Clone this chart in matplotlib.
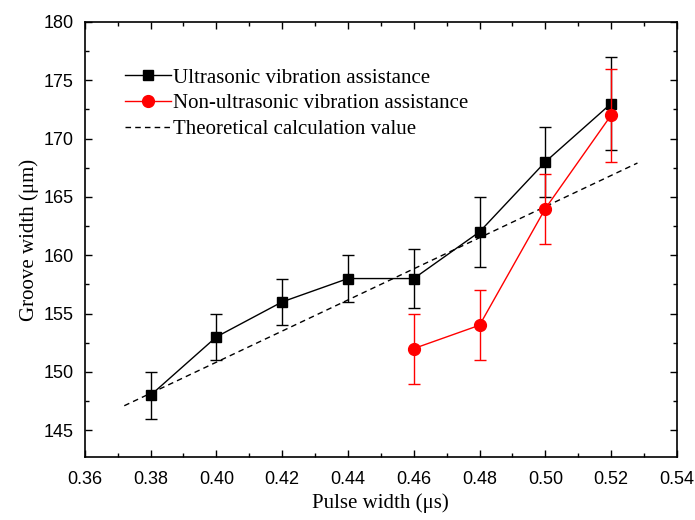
import numpy as np
import matplotlib.pyplot as plt
from matplotlib.ticker import MultipleLocator
from matplotlib.lines import Line2D

# Ultrasonic vibration assistance
x_us = [0.38, 0.40, 0.42, 0.44, 0.46, 0.48, 0.50, 0.52]
y_us = [148, 153, 156, 158, 158, 162, 168, 173]
err_us = [2, 2, 2, 2, 2.5, 3, 3, 4]

# Non-ultrasonic vibration assistance
x_non = [0.46, 0.48, 0.50, 0.52]
y_non = [152, 154, 164, 172]
err_non = [3, 3, 3, 4]

# Theoretical calculation value (straight line)
x_theo = [0.372, 0.528]
y_theo = [147.1, 167.9]

xticks = [0.36, 0.38, 0.40, 0.42, 0.44, 0.46, 0.48, 0.50, 0.52, 0.54]
yticks = [145, 150, 155, 160, 165, 170, 175, 180]

serif = ['Liberation Serif', 'DejaVu Serif']
sans = ['Liberation Sans', 'DejaVu Sans']

fig = plt.figure(figsize=(6.95, 5.2), dpi=100)
ax = fig.add_axes([0.122, 0.121, 0.852, 0.837])

ax.errorbar(x_us, y_us, yerr=err_us, color='black', marker='s', markersize=7,
            linewidth=1, elinewidth=1, capsize=4, capthick=1, zorder=3)
ax.errorbar(x_non, y_non, yerr=err_non, color='red', marker='o', markersize=8.5,
            linewidth=1, elinewidth=1, capsize=4, capthick=1, zorder=4)
ax.plot(x_theo, y_theo, color='black', linestyle=(0, (4, 3)), linewidth=1, zorder=2)

ax.set_xlim(0.36, 0.54)
ax.set_ylim(142.7, 180)
ax.xaxis.set_minor_locator(MultipleLocator(0.01))
ax.yaxis.set_minor_locator(MultipleLocator(2.5))
ax.set_xticks(xticks)
ax.set_xticklabels([f'{v:.2f}' for v in xticks])
ax.set_yticks(yticks)

ax.tick_params(which='major', direction='in', length=5, width=1,
               top=True, right=True, labelsize=13)
ax.tick_params(axis='x', which='major', pad=10)
ax.tick_params(axis='y', which='major', pad=8)
ax.tick_params(which='minor', direction='in', length=3, width=1,
               top=True, right=True)
for lab in ax.get_xticklabels() + ax.get_yticklabels():
    lab.set_family(sans)
for s in ax.spines.values():
    s.set_linewidth(1.2)

ax.set_xlabel('Pulse width (μs)', fontsize=15, family=serif, labelpad=4)
ax.set_ylabel('Groove width (μm)', fontsize=15, family=serif, labelpad=3)

handles = [
    Line2D([], [], color='black', marker='s', markersize=7, linewidth=1),
    Line2D([], [], color='red', marker='o', markersize=8.5, linewidth=1),
    Line2D([], [], color='black', linestyle=(0, (4, 3)), linewidth=1),
]
labels = ['Ultrasonic vibration assistance',
          'Non-ultrasonic vibration assistance',
          'Theoretical calculation value']
ax.legend(handles, labels, loc='upper left', bbox_to_anchor=(0.0676, 0.894),
          borderaxespad=0, borderpad=0, frameon=False,
          prop={'family': serif, 'size': 15}, handlelength=2.2,
          handletextpad=0.1, labelspacing=0.3)

fig.savefig('out.png', dpi=100)
